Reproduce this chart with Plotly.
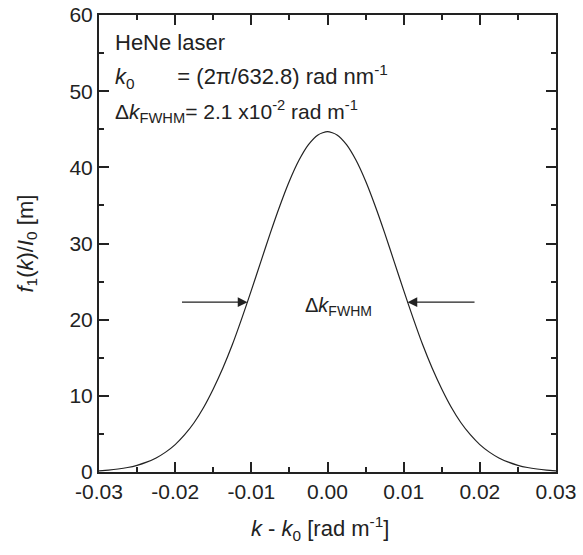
import plotly.graph_objects as go

# Curve values
k_offset = [-0.03, -0.02875, -0.0275, -0.02625, -0.025, -0.02375, -0.0225, -0.02125, -0.02, -0.01875,
            -0.0175, -0.01625, -0.015, -0.01375, -0.0125, -0.01125, -0.01, -0.00875, -0.0075, -0.00625,
            -0.005, -0.00375, -0.0025, -0.00125, 0.0,
            0.00125, 0.0025, 0.00375, 0.005, 0.00625, 0.0075, 0.00875, 0.01, 0.01125, 0.0125, 0.01375,
            0.015, 0.01625, 0.0175, 0.01875, 0.02, 0.02125, 0.0225, 0.02375, 0.025, 0.02625, 0.0275,
            0.02875, 0.03]
f1_over_I0 = [0.16, 0.25, 0.39, 0.59, 0.88, 1.29, 1.85, 2.61, 3.6, 4.9,
              6.5, 8.5, 10.9, 13.62, 16.7, 20.17, 23.84, 27.62, 31.4, 34.96,
              38.2, 40.92, 42.98, 44.26, 44.7,
              44.26, 42.98, 40.92, 38.2, 34.96, 31.4, 27.62, 23.84, 20.17, 16.7, 13.62,
              10.9, 8.5, 6.5, 4.9, 3.6, 2.61, 1.85, 1.29, 0.88, 0.59, 0.39,
              0.25, 0.16]

x_ticks = [-0.03, -0.02, -0.01, 0.0, 0.01, 0.02, 0.03]
x_tick_labels = ["-0.03", "-0.02", "-0.01", "0.00", "0.01", "0.02", "0.03"]
y_ticks = [0, 10, 20, 30, 40, 50, 60]

half_max = 22.3
arrow_left = [-0.0193, -0.0105]
arrow_right = [0.0195, 0.0105]

FONT = "Liberation Sans, Arial, sans-serif"
INK = "#222222"

fig = go.Figure()
fig.add_trace(go.Scatter(x=k_offset, y=f1_over_I0, mode="lines",
                         line=dict(color=INK, width=1.2, shape="spline", smoothing=0.6),
                         hoverinfo="skip", showlegend=False))

for (x0, x1) in (arrow_left, arrow_right):
    fig.add_annotation(x=x1, y=half_max, ax=x0, ay=half_max, xref="x", yref="y",
                       axref="x", ayref="y", showarrow=True, arrowhead=2, arrowsize=1.5,
                       arrowwidth=1.3, arrowcolor=INK, text="")

fig.add_annotation(x=0.0014, y=half_max - 0.6, xref="x", yref="y", showarrow=False,
                   text="Δ<i>k</i><sub>FWHM</sub>", font=dict(family=FONT, size=20, color=INK))

lines = [
    ("HeNe laser", 56.4, 22),
    ("<i>k</i><sub>0</sub>       = (2π/632.8) rad nm<sup>-1</sup>", 51.9, 22),
    ("Δ<i>k</i><sub>FWHM</sub>= 2.1 x10<sup>-2</sup> rad m<sup>-1</sup>", 47.3, 21),
]
for txt, yv, fs in lines:
    fig.add_annotation(x=-0.0281, y=yv, xref="x", yref="y", showarrow=False, xanchor="left",
                       text=txt, font=dict(family=FONT, size=fs, color=INK))

# Axis titles
fig.add_annotation(x=0.4836, y=0, xref="paper", yref="paper", yshift=-56, yanchor="middle",
                   xanchor="center", showarrow=False,
                   text="<i>k</i> - <i>k</i><sub>0</sub> [rad m<sup>-1</sup>]",
                   font=dict(family=FONT, size=22, color=INK))
fig.add_annotation(x=0, y=0.5, xref="paper", yref="paper", xshift=-73, xanchor="center",
                   yanchor="middle", showarrow=False, textangle=-90,
                   text="<i>f</i><sub>1</sub>(<i>k</i>)/<i>I</i><sub>0</sub> [m]",
                   font=dict(family=FONT, size=22, color=INK))

axis_common = dict(showline=True, linecolor=INK, linewidth=2, mirror="ticks",
                   ticks="inside", ticklen=10, tickwidth=1.8, tickcolor=INK,
                   showgrid=False, zeroline=False, automargin=False,
                   ticklabeloverflow="allow",
                   tickfont=dict(family=FONT, size=21, color=INK))

fig.update_xaxes(range=[-0.03, 0.03], tickvals=x_ticks, ticktext=x_tick_labels,
                 minor=dict(ticks="inside", ticklen=5, tickwidth=1.5, tickcolor=INK, dtick=0.005),
                 **axis_common)
fig.update_yaxes(range=[0, 60], tickvals=y_ticks,
                 minor=dict(ticks="inside", ticklen=5, tickwidth=1.5, tickcolor=INK, dtick=5),
                 **axis_common)

fig.update_layout(width=583, height=555, plot_bgcolor="white", paper_bgcolor="white",
                  margin=dict(l=99, r=27, t=15, b=83), showlegend=False)

fig.write_html("out.html", config={"displayModeBar": False},
               post_script="document.body.style.margin='0';")
